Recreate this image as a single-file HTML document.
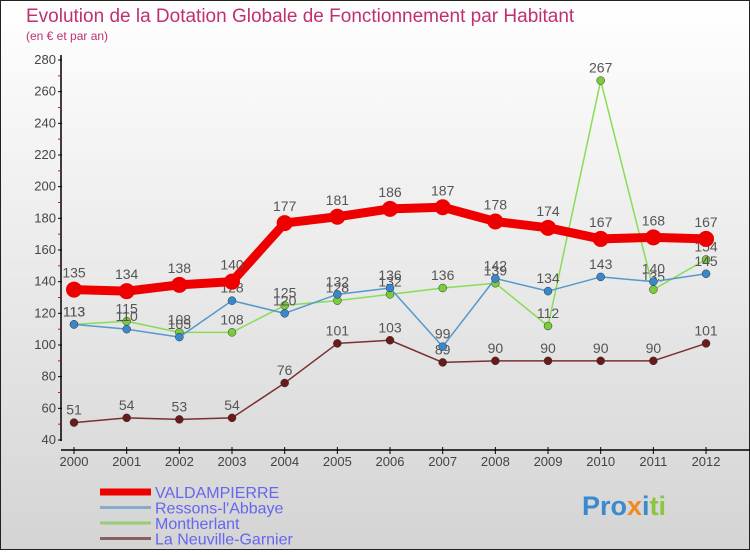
<!DOCTYPE html>
<html><head><meta charset="utf-8"><style>
body{margin:0;width:750px;height:550px;overflow:hidden;font-family:"Liberation Sans",sans-serif}
</style></head><body>
<svg id="chart" width="750" height="550" xmlns="http://www.w3.org/2000/svg" style="font-family:'Liberation Sans',sans-serif">
<defs><linearGradient id="bg" x1="0" y1="0" x2="0" y2="1"><stop offset="0" stop-color="#ffffff"/><stop offset="1" stop-color="#d4d4d4"/></linearGradient></defs>
<rect x="0.5" y="0.5" width="749" height="549" fill="url(#bg)" stroke="#222"/>
<text x="26" y="22" font-size="19" fill="#c03070">Evolution de la Dotation Globale de Fonctionnement par Habitant</text>
<text x="26" y="40" font-size="12" fill="#c03070">(en € et par an)</text>
<g id="axes"></g><g id="series"></g><g id="legend"></g>
</svg>
<script>
const years=["2000","2001","2002","2003","2004","2005","2006","2007","2008","2009","2010","2011","2012"];
const yTicks=[40,60,80,100,120,140,160,180,200,220,240,260,280];
const valdampierre=[135,134,138,140,177,181,186,187,178,174,167,168,167];
const ressons=[113,110,105,128,120,132,136,99,142,134,143,140,145];
const montherlant=[113,115,108,108,125,128,132,136,139,112,267,135,154];
const neuville=[51,54,53,54,76,101,103,89,90,90,90,90,101];
const NS="http://www.w3.org/2000/svg";
function x(i){return 74+i*52.67;}
function y(v){return 440-(v-40)*380/240;}
function mk(tag,attrs,parent){const e=document.createElementNS(NS,tag);for(const k in attrs)e.setAttribute(k,attrs[k]);parent.appendChild(e);return e;}
const axes=document.getElementById('axes');
let a=mk('line',{x1:61,y1:55,x2:61,y2:441,stroke:'#000','stroke-width':1.5},axes);


a=mk('line',{x1:61,y1:450,x2:750,y2:450,stroke:'#000','stroke-width':1.5},axes);


yTicks.forEach(v=>{
 mk('line',{x1:58,y1:y(v),x2:62,y2:y(v),stroke:'#000'},axes);
 if(v<280) mk('line',{x1:58,y1:y(v+10),x2:60,y2:y(v+10),stroke:'#f00'},axes);
 const t=mk('text',{x:56,y:y(v)+4,'font-size':13,'text-anchor':'end',fill:'#444'},axes);
 t.textContent=v;
 
 
});
years.forEach((yr,i)=>{
 mk('line',{x1:x(i),y1:447,x2:x(i),y2:454,stroke:'#000'},axes);
 const t=mk('text',{x:x(i),y:466,'font-size':13,'text-anchor':'middle',fill:'#444'},axes);
 t.textContent=yr;
 
 
});
const ser=document.getElementById('series');
const defs=[
 {d:neuville,c:'#6b1a1a',lc:'#7a3030',w:1.5,r:4,name:'la-neuville-garnier'},
 {d:montherlant,c:'#7acc3a',lc:'#88dd55',w:1.5,r:4,name:'montherlant'},
 {d:ressons,c:'#3a88cc',lc:'#5599cc',w:1.5,r:4,name:'ressons-l-abbaye'},
 {d:valdampierre,c:'#ee0000',lc:'#ee0000',w:9,r:8,name:'valdampierre'}
];
defs.forEach(s=>{
 const g=mk('g',{},ser);
 
 
 const p=mk('polyline',{points:s.d.map((v,i)=>x(i)+','+y(v)).join(' '),fill:'none',stroke:s.lc,'stroke-width':s.w,'stroke-linejoin':'round'},g);
 
 
 s.d.forEach((v,i)=>{
  const c=mk('circle',{cx:x(i),cy:y(v),r:s.r,fill:s.c,stroke:'#333','stroke-width':s.r>5?0:0.5},g);
  
  
  const t=mk('text',{x:x(i),y:y(v)-(s.r>5?12:8),'font-size':14,'text-anchor':'middle',fill:'#555'},g);
  t.textContent=v;
  
  
 });
});
const leg=document.getElementById('legend');
const names=['VALDAMPIERRE',"Ressons-l'Abbaye",'Montherlant','La Neuville-Garnier'];
const lcols=['#ee0000','#88aacc','#99cc77','#886060'];
const lw=[7,3,3,3];
names.forEach((n,i)=>{
 const yy=492+i*15.5;
 const l=mk('line',{x1:100,y1:yy,x2:151,y2:yy,stroke:lcols[i],'stroke-width':lw[i]},leg);
 
 
 const t=mk('text',{x:155,y:yy+6,'font-size':16,fill:'#6666ee'},leg);
 t.textContent=n;
 
 
});
const logo=mk('text',{x:582,y:515,'font-size':27,'font-weight':'bold',fill:'#3a8ad0'},leg);
logo.innerHTML='<tspan fill="#3a8ad0">Pro</tspan><tspan fill="#f08a20">x</tspan><tspan fill="#3a8ad0">i</tspan><tspan fill="#8cc63f">ti</tspan>';


</script>
</body></html>
